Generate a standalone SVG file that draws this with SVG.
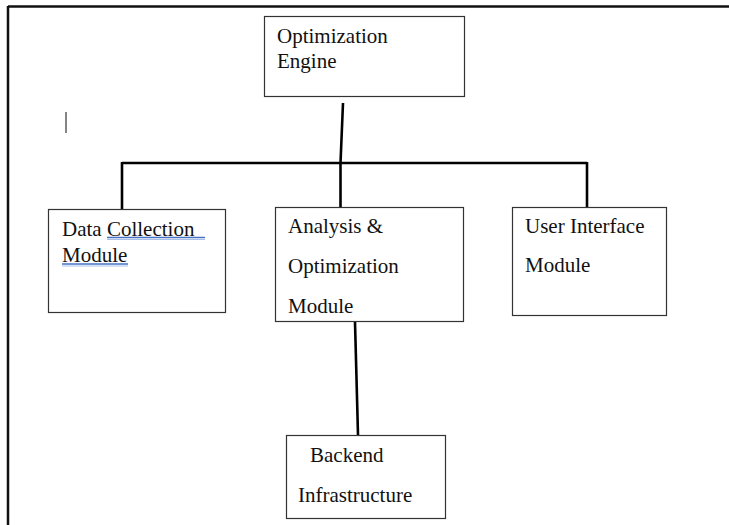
<svg xmlns="http://www.w3.org/2000/svg" width="729" height="525" viewBox="0 0 729 525">
<style>
.box{fill:#fff;stroke:#333;stroke-width:1.2}
.t{font-family:"Liberation Serif","Times New Roman",serif;font-size:21px;fill:#111}
.c{stroke:#000;stroke-width:2.6;fill:none}
.u{stroke:#4472c4;stroke-width:1.3}
.u2{stroke:#a9c1ea;stroke-width:1}
</style>
<rect x="0" y="0" width="729" height="525" fill="#fff"/>
<g id="frame">
<line x1="8" y1="6.5" x2="729" y2="6.5" stroke="#111" stroke-width="2.5"/>
<line x1="8" y1="6" x2="8" y2="525" stroke="#111" stroke-width="2.5"/>
<line x1="66" y1="112" x2="66" y2="133" stroke="#333" stroke-width="1.2"/>
</g>
<g id="connectors">
<polyline class="c" points="343,103 340.5,163"/>
<line class="c" x1="122" y1="163" x2="587" y2="163"/>
<line class="c" x1="122" y1="162" x2="122" y2="209"/>
<line class="c" x1="340.5" y1="162" x2="340.5" y2="207"/>
<line class="c" x1="587" y1="162" x2="587" y2="207"/>
<line class="c" x1="355" y1="322" x2="358" y2="435"/>
</g>
<g id="optimization-engine">
<rect class="box" x="264.5" y="16.5" width="200" height="80"/>
<text class="t" x="277" y="43">Optimization</text>
<text class="t" x="277" y="68">Engine</text>
</g>
<g id="data-collection">
<rect class="box" x="48.5" y="209.5" width="177" height="103"/>
<text class="t" x="62" y="236">Data Collection </text>
<text class="t" x="62" y="262">Module</text>
<line class="u" x1="107" y1="237.5" x2="205" y2="237.5"/>
<line class="u2" x1="107" y1="239.5" x2="205" y2="239.5"/>
<line class="u" x1="62" y1="264" x2="128" y2="264"/>
<line class="u2" x1="62" y1="266" x2="128" y2="266"/>
</g>
<g id="analysis-optimization">
<rect class="box" x="275.5" y="207.5" width="188" height="114"/>
<text class="t" x="288" y="233">Analysis &amp;</text>
<text class="t" x="288" y="273">Optimization</text>
<text class="t" x="288" y="313">Module</text>
</g>
<g id="user-interface">
<rect class="box" x="512.5" y="207.5" width="154" height="108"/>
<text class="t" x="525" y="233">User Interface</text>
<text class="t" x="525" y="272">Module</text>
</g>
<g id="backend">
<rect class="box" x="286.5" y="435.5" width="159" height="83"/>
<text class="t" x="310" y="462">Backend</text>
<text class="t" x="298" y="502">Infrastructure</text>
</g>
</svg>
